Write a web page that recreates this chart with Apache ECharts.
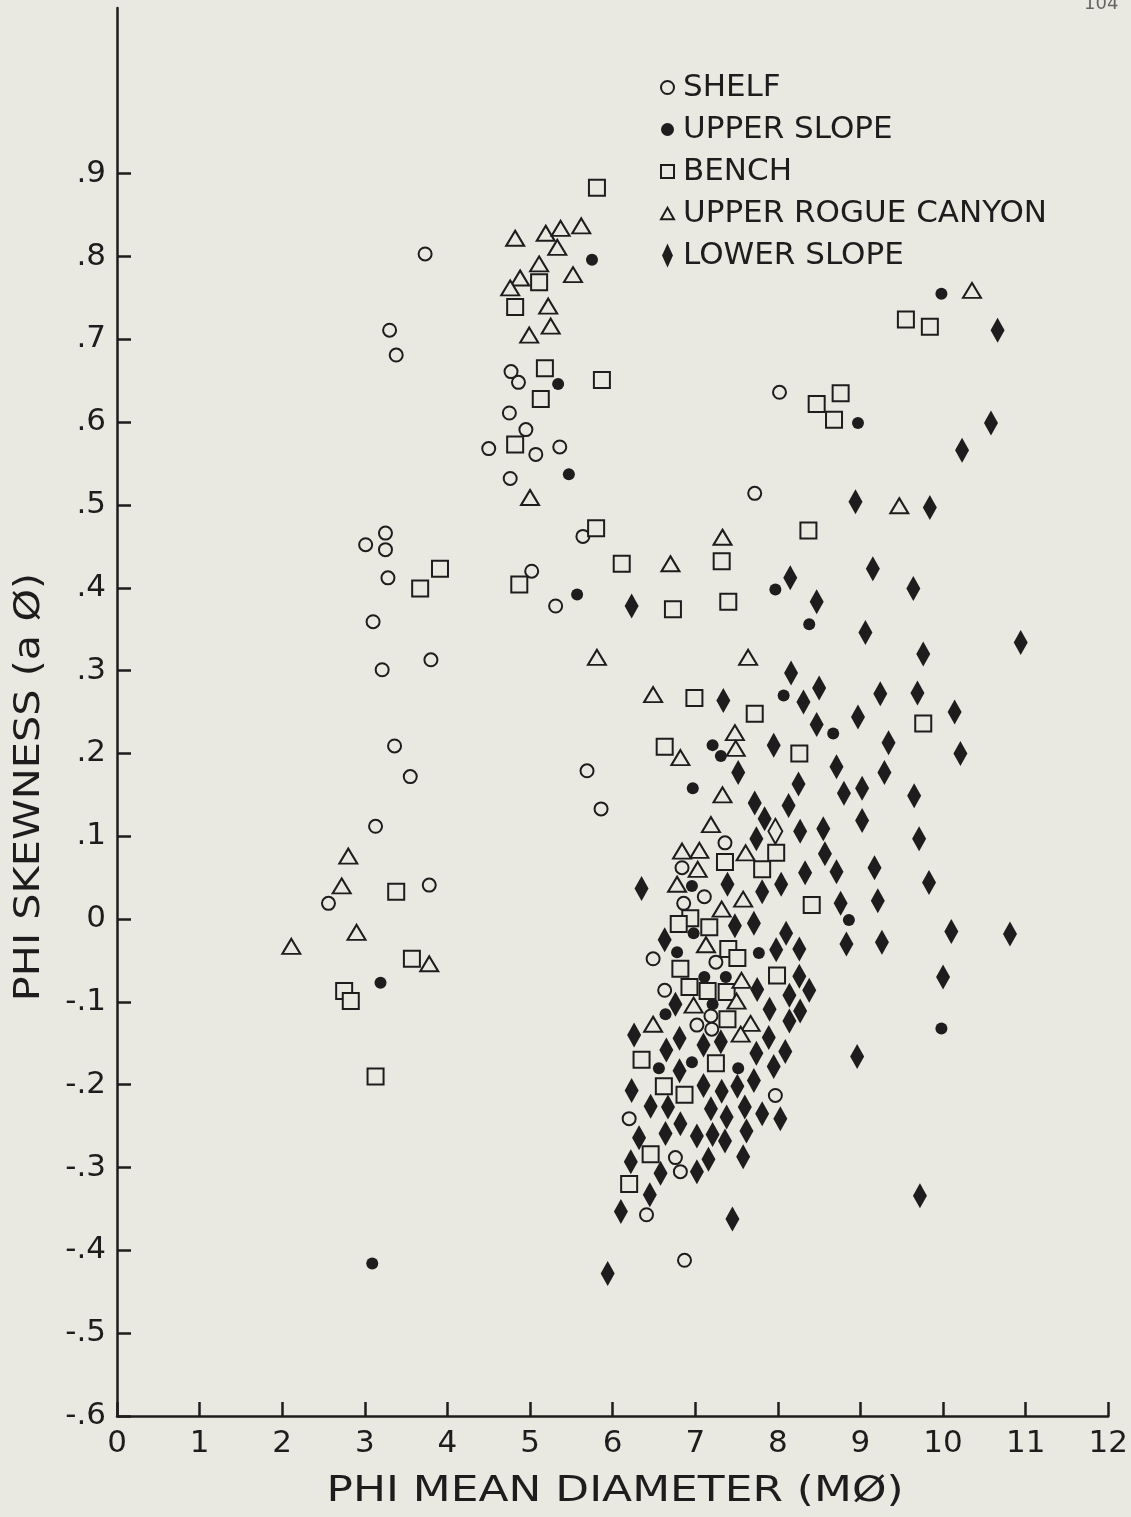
<!DOCTYPE html>
<html>
<head>
<meta charset="utf-8">
<script src="https://cdn.jsdelivr.net/npm/echarts@6/dist/echarts.min.js"></script>
<style>
  html, body { margin: 0; padding: 0; background: #e9e9e2; }
  #chart { width: 1131px; height: 1517px; }
</style>
</head>
<body>
<div id="chart"></div>
<script>
// [phi mean diameter, phi skewness]
const shelf = [
  [3.73, .803], [3.30, .711], [3.38, .681], [3.25, .466], [3.01, .452], [3.25, .446], [3.28, .412],
  [3.10, .359], [3.21, .301], [3.80, .313], [3.36, .209], [3.55, .172], [3.13, .112], [2.56, .019],
  [3.78, .041], [4.77, .661], [4.86, .648], [4.75, .611], [4.95, .591], [4.50, .568], [5.07, .561],
  [5.36, .570], [4.76, .532], [5.64, .462], [5.02, .420], [5.31, .378], [5.69, .179], [5.86, .133],
  [7.72, .514], [8.02, .636], [7.36, .092], [6.84, .062], [7.11, .027], [6.86, .019], [6.49, -.048],
  [7.25, -.052], [6.63, -.086], [7.19, -.117], [7.02, -.128], [7.20, -.133], [7.97, -.213],
  [6.20, -.241], [6.76, -.288], [6.82, -.305], [6.41, -.357], [6.87, -.412]
]
const upperSlope = [
  [5.75, .796], [5.34, .646], [5.47, .537], [5.57, .392], [9.98, .755], [8.97, .599], [7.97, .398],
  [8.38, .356], [8.07, .270], [8.67, .224], [7.21, .210], [7.31, .197], [6.97, .158], [6.96, .040],
  [8.86, -.001], [3.19, -.077], [3.09, -.416], [6.98, -.017], [6.78, -.040], [7.77, -.041],
  [7.11, -.070], [7.37, -.070], [7.21, -.103], [6.64, -.115], [6.56, -.180], [6.96, -.173],
  [7.52, -.180], [9.98, -.132]
]
const bench = [
  [5.81, .883], [5.11, .769], [4.82, .739], [5.18, .665], [5.87, .651], [5.13, .628], [4.82, .573],
  [5.80, .472], [4.87, .404], [3.91, .423], [3.67, .399], [6.11, .429], [7.32, .432], [6.73, .374],
  [7.40, .383], [6.99, .267], [7.72, .248], [6.63, .208], [8.26, .200], [8.37, .469], [9.55, .724],
  [9.84, .715], [8.76, .635], [8.47, .622], [8.68, .603], [9.76, .236], [3.38, .033], [3.57, -.048],
  [2.75, -.087], [2.83, -.099], [3.13, -.190], [7.36, .069], [7.98, .080], [7.81, .060], [8.41, .017],
  [6.94, .001], [6.80, -.006], [7.17, -.010], [7.40, -.036], [7.51, -.047], [6.82, -.060],
  [6.93, -.082], [7.15, -.087], [7.38, -.088], [7.99, -.068], [7.39, -.121], [6.35, -.170],
  [7.25, -.174], [6.62, -.202], [6.87, -.212], [6.46, -.284], [6.20, -.320]
]
const rogueCanyon = [
  [4.82, .822], [5.19, .828], [5.37, .834], [5.62, .837], [5.33, .811], [5.11, .791], [5.52, .778],
  [4.88, .774], [4.76, .762], [5.22, .740], [5.25, .716], [4.99, .705], [5.00, .509], [5.81, .316],
  [10.35, .759], [9.47, .499], [7.33, .461], [6.70, .429], [7.64, .316], [6.49, .271], [6.82, .195],
  [7.48, .225], [7.49, .206], [7.33, .150], [7.19, .114], [6.84, .082], [7.05, .083], [7.61, .080],
  [7.03, .060], [6.78, .042], [7.58, .024], [7.32, .012], [7.13, -.031], [7.56, -.074], [6.98, -.104],
  [7.50, -.099], [6.49, -.127], [7.67, -.126], [7.55, -.139], [2.80, .076], [2.72, .040],
  [2.90, -.016], [2.11, -.033], [3.78, -.054]
]
const lowerSlope = [
  [10.66, .711], [10.58, .599], [10.23, .566], [9.84, .497], [8.94, .504], [6.23, .378], [8.15, .412],
  [8.47, .383], [9.06, .346], [9.15, .423], [9.64, .399], [10.94, .334], [9.76, .320], [9.24, .272],
  [9.69, .273], [10.14, .250], [9.34, .213], [10.21, .200], [8.16, .297], [8.50, .279], [8.31, .262],
  [7.34, .264], [8.47, .235], [8.97, .244], [7.95, .210], [8.71, .184], [9.29, .177], [7.52, .177],
  [8.25, .163], [8.80, .152], [9.02, .158], [9.65, .149], [7.72, .140], [8.13, .137], [7.84, .121],
  [9.02, .119], [8.27, .106], [8.55, .109], [9.71, .097], [7.74, .097], [8.57, .079], [8.33, .056],
  [8.71, .057], [9.17, .062], [6.35, .037], [7.39, .042], [8.04, .042], [9.83, .044], [7.81, .033],
  [8.76, .019], [9.21, .022], [7.48, -.008], [7.71, -.005], [8.10, -.017], [10.10, -.015],
  [10.81, -.018], [8.83, -.030], [9.26, -.028], [6.63, -.025], [7.98, -.037], [8.26, -.036],
  [10.00, -.070], [8.26, -.069], [8.38, -.086], [8.14, -.092], [7.75, -.085], [6.76, -.103],
  [7.90, -.109], [8.27, -.111], [8.14, -.123], [6.26, -.140], [6.81, -.144], [7.31, -.148],
  [7.10, -.152], [7.89, -.143], [6.65, -.158], [7.74, -.162], [8.09, -.160], [8.96, -.166],
  [6.81, -.183], [7.95, -.178], [7.71, -.195], [6.23, -.207], [7.10, -.201], [7.32, -.208],
  [7.51, -.202], [8.03, -.241], [6.46, -.226], [6.67, -.227], [7.19, -.229], [7.60, -.227],
  [7.81, -.235], [7.38, -.239], [6.82, -.247], [6.32, -.264], [6.64, -.259], [7.02, -.262],
  [7.21, -.260], [7.36, -.268], [7.62, -.256], [6.22, -.293], [6.58, -.307], [7.02, -.305],
  [7.16, -.290], [7.58, -.287], [6.45, -.333], [6.10, -.353], [7.45, -.362], [5.94, -.428],
  [9.72, -.334]
]
// one hollow diamond in the cluster, not in the key
const openDiamond = [[7.97, .106]]

const yTicks = [-0.6, -0.5, -0.4, -0.3, -0.2, -0.1, 0, 0.1, 0.2, 0.3, 0.4, 0.5, 0.6, 0.7, 0.8, 0.9]
const legendNames = ['SHELF', 'UPPER SLOPE', 'BENCH', 'UPPER ROGUE CANYON', 'LOWER SLOPE']

const ink = '#1f1c1d'
const paper = '#e9e9e2'
const font = 'DejaVu Sans'

const chart = echarts.init(document.getElementById('chart'))

function fmtY (v) {
  const r = Math.round(v * 10)
  if (r === 0) return '0'
  return (r < 0 ? '-' : '') + '.' + Math.abs(r)
}

const hollow = { color: paper, borderColor: ink, borderWidth: 2, opacity: 1 }
const solid = { color: ink, opacity: 1 }

const option = {
  backgroundColor: paper,
  animation: false,
  grid: { left: 117, right: 19, top: 8, bottom: 101 },
  xAxis: {
    type: 'value',
    min: 0,
    max: 12,
    interval: 1,
    axisLine: { onZero: false, lineStyle: { color: ink, width: 2.5 } },
    axisTick: { inside: true, length: 14, lineStyle: { color: ink, width: 2.5 } },
    axisLabel: { color: ink, fontFamily: font, fontSize: 31, margin: 12 },
    splitLine: { show: false }
  },
  yAxis: {
    type: 'value',
    min: -0.6,
    max: 1.1,
    interval: 0.1,
    axisLine: { show: true, lineStyle: { color: ink, width: 2.5 } },
    axisTick: { show: true, inside: true, length: 14, customValues: yTicks, lineStyle: { color: ink, width: 2.5 } },
    axisLabel: { color: ink, fontFamily: font, fontSize: 31, margin: 11, customValues: yTicks, formatter: fmtY },
    splitLine: { show: false }
  },
  legend: {
    orient: 'vertical',
    left: 655,
    top: 67,
    itemGap: 11,
    itemWidth: 13,
    itemHeight: 24,
    textStyle: { color: ink, fontFamily: font, fontSize: 31, lineHeight: 30, padding: [0, 0, 0, 4] },
    data: [
      { name: legendNames[0], icon: 'circle' },
      { name: legendNames[1], icon: 'circle' },
      { name: legendNames[2], icon: 'path://M0,0H10V10H0Z' },
      { name: legendNames[3], icon: 'path://M6,0L12,10.4L0,10.4Z' },
      { name: legendNames[4], icon: 'path://M5,0L10,11L5,22L0,11Z' }
    ]
  },
  graphic: [
    {
      type: 'text', x: 615, y: 1474, scaleX: 1.22,
      style: { text: 'PHI MEAN DIAMETER (MØ)', fill: ink, font: '36px "DejaVu Sans"', align: 'center' }
    },
    {
      type: 'text', x: 12, y: 787, rotation: Math.PI / 2, scaleX: 1.15,
      style: { text: 'PHI SKEWNESS (a Ø)', fill: ink, font: '36px "DejaVu Sans"', align: 'center', verticalAlign: 'top' }
    },
    {
      type: 'text', x: 1084, y: -5,
      style: { text: '104', fill: '#666', font: '18px "DejaVu Sans"' }
    }
  ],
  series: [
    { name: legendNames[0], type: 'scatter', data: shelf, symbol: 'circle', symbolSize: 13, itemStyle: hollow },
    { name: legendNames[1], type: 'scatter', data: upperSlope, symbol: 'circle', symbolSize: 12, itemStyle: solid },
    { name: legendNames[2], type: 'scatter', data: bench, symbol: 'rect', symbolSize: 16, itemStyle: hollow },
    { name: legendNames[3], type: 'scatter', data: rogueCanyon, symbol: 'triangle', symbolSize: [18, 15], itemStyle: hollow },
    { name: legendNames[4], type: 'scatter', data: lowerSlope, symbol: 'diamond', symbolSize: [14, 25], itemStyle: solid },
    { name: 'open', type: 'scatter', data: openDiamond, symbol: 'diamond', symbolSize: [14, 25], itemStyle: hollow }
  ]
}

chart.setOption(option)
</script>
</body>
</html>
